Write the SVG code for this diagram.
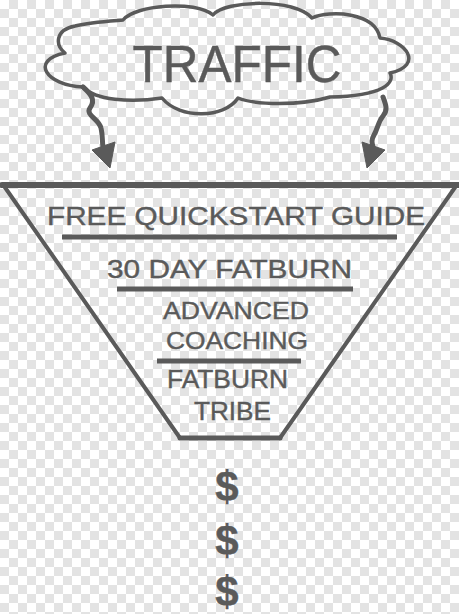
<svg xmlns="http://www.w3.org/2000/svg" width="459" height="614" viewBox="0 0 459 614">
  <defs>
    <pattern id="checker" x="0" y="0" width="18" height="18" patternUnits="userSpaceOnUse">
      <rect width="18" height="18" fill="#ffffff"/>
      <rect x="9" y="0" width="9" height="9" fill="#e3e3e3"/>
      <rect x="0" y="9" width="9" height="9" fill="#e3e3e3"/>
    </pattern>
    <style>
      .ink { fill: none; stroke: #5a5a5a; stroke-linejoin: round; stroke-linecap: round; }
      .lbl { font-family: "Liberation Sans", Arial, sans-serif; fill: #5a5a5a; text-anchor: middle; stroke: #5a5a5a; stroke-width: 0.4; }
      .head { fill: #5a5a5a; stroke: #5a5a5a; stroke-width: 1; stroke-linejoin: round; }
      .rule { stroke: #5a5a5a; stroke-width: 5; }
    </style>
  </defs>

  <rect width="459" height="614" fill="url(#checker)"/>

  <g id="traffic">
    <path class="ink" stroke-width="3.5" d="M65,53 C55,45 55,30 75,26 C90,22 110,21 123,20 C135,5 195,0 213,15 C225,0 295,-2 312,18 C330,10 375,12 380,38 C405,40 425,65 390,73 C395,82 385,96 330,97 C300,106 255,105 238,98 C225,118 180,120 162,98 C130,103 95,100 83,87 C45,85 30,60 65,53 Z"/>
    <text class="lbl" x="237" y="82" font-size="51" textLength="209" lengthAdjust="spacingAndGlyphs">TRAFFIC</text>
  </g>

  <g id="connectors">
    <g id="arrow-left">
      <path class="ink" stroke-width="5" d="M83,87 C91,94 96,100 90,108 C85,115 99,119 101,128 C103,136 102,142 103,147"/>
      <polygon class="head" points="92,150 115,142 110,168"/>
    </g>
    <g id="arrow-right">
      <path class="ink" stroke-width="5" d="M383,97 C386,105 388,110 383,116 C378,122 378,128 374,135 C371,140 372,143 373,147"/>
      <polygon class="head" points="362,142 385,150 367,168"/>
    </g>
  </g>

  <g id="funnel">
    <line class="ink" stroke-width="6" x1="2" y1="185" x2="458" y2="185"/>
    <line class="ink" stroke-width="4" x1="4" y1="186" x2="180" y2="438"/>
    <line class="ink" stroke-width="4" x1="456" y1="186" x2="280" y2="438"/>
    <line class="ink" stroke-width="5" x1="180" y1="438" x2="280" y2="438"/>
  </g>

  <g id="stage-quickstart">
    <text class="lbl" x="236" y="225" font-size="25.5" textLength="378" lengthAdjust="spacingAndGlyphs">FREE QUICKSTART GUIDE</text>
    <line class="rule" x1="62" y1="237" x2="397" y2="237"/>
  </g>

  <g id="stage-fatburn">
    <text class="lbl" x="229.5" y="278" font-size="26.5" textLength="245" lengthAdjust="spacingAndGlyphs">30 DAY FATBURN</text>
    <line class="rule" x1="117" y1="289" x2="353" y2="289"/>
  </g>

  <g id="stage-coaching">
    <text class="lbl" x="236" y="319" font-size="24" textLength="146" lengthAdjust="spacingAndGlyphs">ADVANCED</text>
    <text class="lbl" x="237" y="349" font-size="24" textLength="142" lengthAdjust="spacingAndGlyphs">COACHING</text>
    <line class="rule" x1="157" y1="361" x2="301" y2="361"/>
  </g>

  <g id="stage-tribe">
    <text class="lbl" x="227.5" y="388" font-size="25" textLength="121" lengthAdjust="spacingAndGlyphs">FATBURN</text>
    <text class="lbl" x="232.5" y="420" font-size="25" textLength="77" lengthAdjust="spacingAndGlyphs">TRIBE</text>
  </g>

  <g id="revenue">
    <text class="lbl" x="227" y="501" font-size="42" font-weight="bold">$</text>
    <text class="lbl" x="227" y="555" font-size="42" font-weight="bold">$</text>
    <text class="lbl" x="227" y="606" font-size="42" font-weight="bold">$</text>
  </g>
</svg>
